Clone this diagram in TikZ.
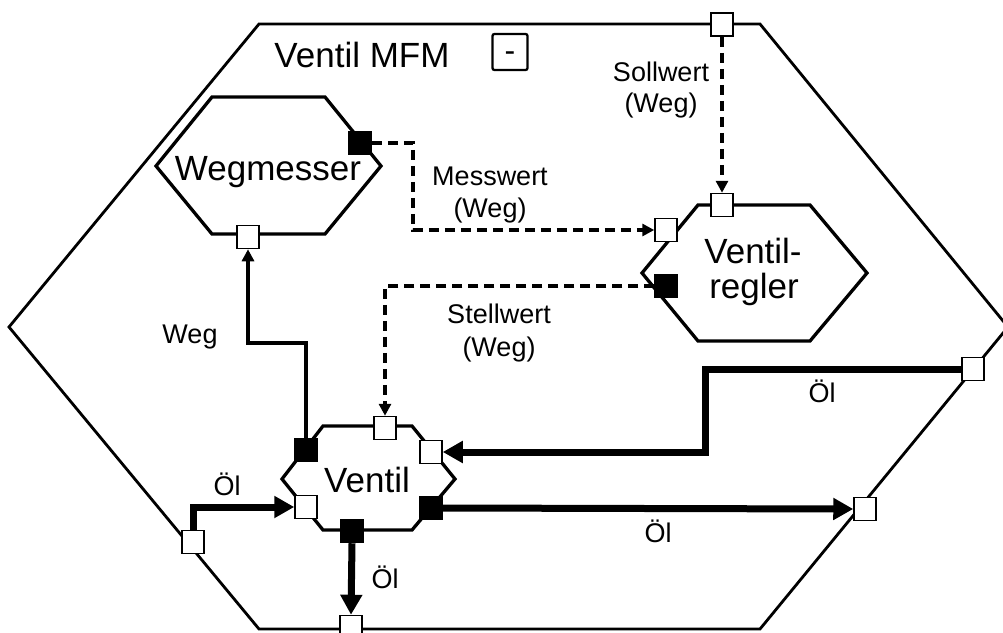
\documentclass[tikz,border=0pt]{standalone}
\usepackage{fontspec}
\setmainfont{Liberation Sans}
\usetikzlibrary{arrows.meta}
\begin{document}
\begin{tikzpicture}[x=1pt,y=-1pt,
  outerline/.style={line width=2.8pt, line join=miter},
  hexline/.style={line width=3.3pt, line join=miter},
  wport/.style={draw, fill=white, line width=1.5pt, minimum width=22pt, minimum height=23pt, inner sep=0pt},
  bport/.style={wport, fill=black},
  oil/.style={line width=7pt, -{Triangle[length=20pt,width=21pt]}},
  sig/.style={line width=3.5pt, dash pattern=on 10pt off 6pt, -{Triangle[length=12pt,width=12pt]}},
  wegline/.style={line width=3.5pt, -{Triangle[length=12pt,width=12pt]}},
  big/.style={font=\fontsize{35}{36}\selectfont, inner sep=0pt},
  small/.style={font=\fontsize{27}{30}\selectfont, inner sep=0pt}
]
\useasboundingbox (0,0) rectangle (1003,632);

% outer hexagon
\draw[outerline] (9,327) -- (259,24) -- (760,24) -- (1008,327) -- (760,629) -- (259,629) -- cycle;
% Wegmesser
\draw[hexline] (156,166) -- (212,97) -- (325,97) -- (381,166) -- (325,234) -- (212,234) -- cycle;
% Ventilregler
\draw[hexline] (642,273) -- (698,205) -- (810,205) -- (867,273) -- (810,341) -- (698,341) -- cycle;
% Ventil
\draw[hexline] (282,479) -- (323,426) -- (412,426) -- (455,479) -- (412,530) -- (323,530) -- cycle;

% titles
\node[big, anchor=base] (title) at (362,67) {Ventil MFM};
\node[draw, line width=2.3pt, rounded corners=2pt, minimum width=35pt, minimum height=36pt, inner sep=0pt] (mbox) at (510,52) {};
\node[font=\fontsize{32}{34}\selectfont, inner sep=0pt, anchor=base] (mdash) at (510,61) {-};
\node[big, anchor=base] (tw) at (268,180) {Wegmesser};
\node[big, anchor=base] (tr1) at (753,263) {Ventil-};
\node[big, anchor=base] (tr2) at (754,298) {regler};
\node[big, anchor=base] (tv) at (367,492) {Ventil};

% ports
\node[wport] (ptop) at (722,24.5) {};
\node[wport] (pright) at (973,369) {};
\node[wport] (pbr) at (865,509) {};
\node[wport] (pbot) at (351,627) {};
\node[wport] (pleft) at (193,542) {};

\node[bport] (wmo) at (360,143) {};
\node[wport] (wmi) at (248,237) {};

\node[wport] (rt) at (722,205) {};
\node[wport] (rl) at (666,230) {};
\node[bport] (ro) at (666,286) {};

\node[bport] (vo1) at (306,450) {};
\node[wport] (vl) at (306,507) {};
\node[wport] (vr) at (431,452) {};
\node[bport] (vo2) at (431,508) {};
\node[bport] (vo3) at (352,531) {};
\node[wport] (vt) at (385,428) {};

% connectors
\draw[sig] (ptop.south) -- (rt.north);
\draw[sig] (wmo.east) -| (413,230) -- (rl.west);
\draw[sig] (ro.west) -| (vt.north);
\draw[wegline] (vo1.north) -- (306,343) -| (wmi.south);
\draw[oil] (pleft.north) |- (vl.west);
\draw[oil] (pright.west) -| (705,452) -- (vr.east);
\draw[oil] (vo2.east) -- (pbr.west);
\draw[oil] (vo3.south) -- (pbot.north);

% labels
\node[small, anchor=base] (lsoll1) at (661,81) {Sollwert};
\node[small, anchor=base] (lsoll2) at (661,112) {(Weg)};
\node[small, anchor=base] (lmess1) at (490,185) {Messwert};
\node[small, anchor=base] (lmess2) at (490,217) {(Weg)};
\node[small, anchor=base] (lstell1) at (499,323) {Stellwert};
\node[small, anchor=base] (lstell2) at (499,356) {(Weg)};
\node[small, anchor=base] (lweg) at (190,343) {Weg};
\node[small, anchor=base] (loel1) at (227,495) {Öl};
\node[small, anchor=base] (loel2) at (822,402) {Öl};
\node[small, anchor=base] (loel3) at (658,542) {Öl};
\node[small, anchor=base] (loel4) at (385,588) {Öl};
\end{tikzpicture}
\end{document}
